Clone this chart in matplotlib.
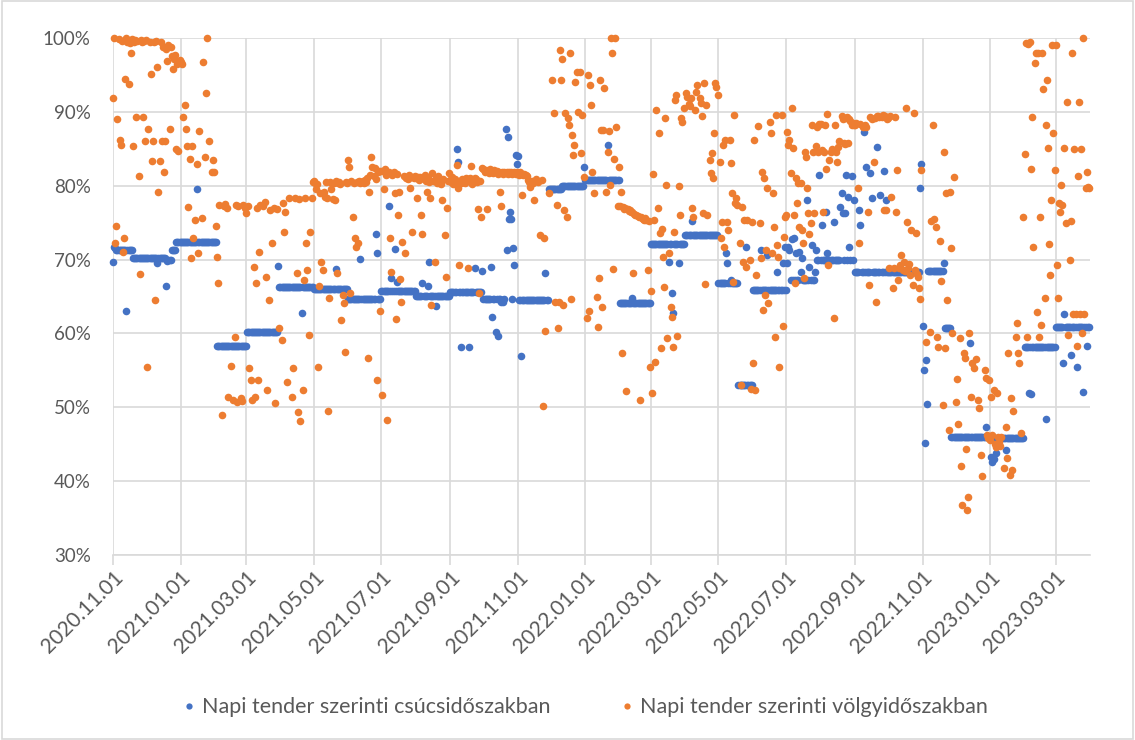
import numpy as np
import pandas as pd
import matplotlib
matplotlib.use("Agg")
import matplotlib.pyplot as plt
from matplotlib.lines import Line2D
from matplotlib.patches import Rectangle

plt.rcParams['font.family'] = ['Lato', 'DejaVu Sans']

# ---- data (daily values, % ; one row per month, starting at the 1st) ----
month_starts = pd.date_range("2020-11-01", "2023-03-01", freq="MS")

series_names = ["Napi tender szerinti csúcsidőszakban",
                "Napi tender szerinti völgyidőszakban"]

N = None

peak_rows = [
    # 2020-11
    [69.7,71.7,71.5,71.3,71.3,71.3,71.3,71.3,71.3,71.3,71.3,71.3,63.0,71.3,71.3,71.3,71.3,71.3,70.2,70.2,70.2,70.2,70.2,70.2,70.2,70.2,70.2,70.2,70.2,70.2],
    # 2020-12
    [70.2,70.2,70.2,70.2,70.2,70.2,70.2,70.2,70.2,70.2,69.5,70.2,70.2,70.2,70.2,70.2,70.2,70.2,66.4,69.8,70.0,70.0,70.0,71.3,71.3,71.3,71.3,72.4,72.4,72.4,72.4],
    # 2021-01
    [72.4,72.4,72.4,72.4,72.4,72.4,72.4,72.4,72.4,72.4,72.4,72.4,72.4,72.4,72.4,79.6,72.4,72.4,72.4,72.4,72.4,72.4,72.4,72.4,72.4,72.4,72.4,72.4,72.4,72.4,72.4],
    # 2021-02
    [72.4,72.4,58.3,58.3,58.3,58.3,58.3,58.3,58.3,58.3,58.3,58.3,58.3,58.3,58.3,58.3,58.3,58.3,58.3,58.3,58.3,58.3,58.3,58.3,58.3,58.3,58.3,58.3],
    # 2021-03
    [58.3,60.2,60.2,60.2,60.2,60.2,60.2,60.2,60.2,60.2,60.2,60.2,60.2,60.2,60.2,60.2,60.2,60.2,60.2,60.2,60.2,60.2,60.2,60.2,60.2,60.2,60.2,60.2,60.2,69.1,66.3],
    # 2021-04
    [66.3,66.3,66.3,66.3,66.3,66.3,66.3,66.3,66.3,66.3,66.3,66.3,66.3,66.3,66.3,66.3,66.3,66.3,66.3,62.8,66.3,66.3,66.3,66.3,66.3,66.3,66.3,66.3,66.3,66.3],
    # 2021-05
    [66.0,66.0,66.0,66.0,66.0,66.0,66.0,66.0,66.0,66.0,66.0,66.0,66.0,66.0,66.0,66.0,66.0,66.0,66.0,66.0,68.7,66.0,66.0,66.0,66.0,66.0,66.0,66.0,66.0,66.0,66.0],
    # 2021-06
    [64.7,64.7,64.7,64.7,64.7,64.7,64.7,64.7,64.7,64.7,64.7,70.1,64.7,64.7,64.7,64.7,64.7,64.7,64.7,64.7,64.7,64.7,64.7,64.7,64.7,73.5,70.9,64.7,64.7,64.7],
    # 2021-07
    [65.7,65.7,65.7,65.7,65.7,65.7,65.7,77.3,65.7,67.5,65.7,65.7,71.4,65.7,67.0,65.7,65.7,65.7,65.7,65.7,65.7,65.7,65.7,65.7,65.7,65.7,65.7,65.7,65.7,65.7,65.7],
    # 2021-08
    [65.1,65.1,65.1,65.1,65.1,65.1,66.8,65.1,65.1,65.1,65.1,66.4,69.7,65.1,65.1,65.1,65.1,65.1,63.7,65.1,65.1,65.1,65.1,65.1,65.1,65.1,65.1,65.1,65.1,65.1,65.1],
    # 2021-09
    [65.6,65.6,65.6,65.6,65.6,65.6,85.0,83.2,65.6,65.6,58.2,65.6,65.6,65.6,65.6,65.6,65.6,58.2,65.6,65.6,65.6,65.6,68.9,65.6,65.6,65.6,65.6,65.6,65.6,68.5],
    # 2021-10
    [64.6,64.6,64.6,64.6,64.6,64.6,64.6,69.0,62.2,64.6,64.6,60.2,64.6,59.6,64.6,64.6,64.3,64.5,64.3,64.6,87.7,71.3,86.6,75.5,76.4,75.5,64.6,71.6,69.3,84.1,83.0],
    # 2021-11
    [84.0,64.5,64.5,57.0,64.5,64.5,64.5,64.5,64.5,64.5,64.5,64.5,64.5,64.5,64.5,64.5,64.5,64.5,64.5,64.5,64.5,64.5,64.5,64.5,64.5,68.2,64.5,64.5,79.6,79.6],
    # 2021-12
    [79.5,79.5,79.5,79.5,79.5,79.5,79.5,79.5,79.5,79.5,79.9,79.9,79.9,79.9,79.9,79.9,79.9,79.9,79.9,79.9,79.9,79.9,79.9,79.9,79.9,79.9,79.9,79.9,79.9,79.9,82.5],
    # 2022-01
    [80.8,80.8,80.8,80.8,80.8,80.8,80.8,80.8,80.8,80.8,80.8,80.8,80.8,80.8,80.8,80.8,80.8,80.8,80.8,80.8,85.5,80.8,80.8,80.8,80.8,80.8,80.8,80.8,80.8,80.8,80.8],
    # 2022-02
    [64.1,64.1,64.1,64.1,64.1,64.1,64.1,64.1,64.1,64.1,64.1,64.8,64.1,64.1,64.1,64.1,64.1,64.1,64.1,64.1,64.1,64.1,64.1,64.1,64.1,64.1,64.1,64.1],
    # 2022-03
    [72.1,72.1,72.1,72.1,72.1,72.1,72.1,72.1,72.1,72.1,72.1,72.1,72.1,72.1,72.1,72.1,69.7,72.1,72.1,65.5,62.8,72.1,72.1,72.1,72.1,69.5,72.1,72.1,72.1,72.1,72.1],
    # 2022-04
    [73.3,73.3,73.3,73.3,73.3,73.3,75.2,73.3,73.3,73.3,73.3,73.3,73.3,73.3,73.3,73.3,73.3,73.3,73.3,73.3,73.3,73.3,73.3,73.3,73.3,73.3,73.3,73.3,73.3,73.3],
    # 2022-05
    [66.8,66.8,66.8,66.8,66.8,66.8,66.8,70.9,69.5,66.8,66.8,67.2,66.8,66.8,66.8,66.8,66.8,66.8,53.0,53.0,53.0,53.0,53.0,53.0,53.0,71.7,53.0,53.0,53.0,53.0,53.0],
    # 2022-06
    [65.9,65.9,65.9,65.9,65.9,65.9,65.9,71.3,65.9,65.9,65.9,65.9,65.9,70.6,65.9,65.9,65.9,65.9,65.9,65.9,65.9,65.9,68.3,65.9,65.9,65.9,65.9,69.5,65.9,71.7],
    # 2022-07
    [65.9,69.5,71.7,71.3,67.2,72.8,67.2,72.9,67.2,70.9,67.2,67.2,71.0,68.3,70.2,67.2,67.2,67.2,67.2,78.1,67.2,69.0,67.2,72.0,67.2,67.2,68.3,71.3,70.0,70.0,81.4],
    # 2022-08
    [70.0,74.7,70.0,70.0,70.0,76.5,70.9,70.0,70.0,70.0,70.0,70.0,75.1,70.0,70.0,70.0,70.0,70.0,77.1,79.0,76.3,70.0,76.3,81.4,70.0,78.5,71.7,70.0,81.3,70.0,78.1],
    # 2022-09
    [68.3,68.3,68.3,68.3,76.7,74.7,68.3,68.3,87.3,68.3,82.5,68.3,68.3,68.3,81.7,78.3,68.3,68.3,68.3,68.3,85.2,68.3,68.3,78.7,68.3,68.3,82.0,68.3,78.1,68.3],
    # 2022-10
    [68.3,68.3,68.3,68.3,68.3,68.3,68.3,68.3,68.3,68.3,68.3,68.3,68.3,68.3,68.3,68.3,68.3,68.3,68.3,68.3,68.3,68.3,68.3,68.3,68.3,68.3,68.3,68.3,68.3,79.7,82.9],
    # 2022-11
    [61.0,55.0,45.2,56.4,50.4,68.5,68.5,68.5,68.5,68.5,68.5,68.5,68.5,68.5,68.5,68.5,68.5,68.5,68.5,69.5,60.7,60.7,60.7,60.7,60.7,60.7,46.0,46.0,46.0,46.0],
    # 2022-12
    [46.0,46.0,46.0,46.0,46.0,46.0,46.0,46.0,46.0,46.0,46.0,46.0,46.0,58.7,46.0,46.0,46.0,46.0,46.0,46.0,46.0,46.0,46.0,46.0,46.0,46.0,46.0,47.3,46.0,46.0,46.0],
    # 2023-01
    [45.8,43.3,42.6,43.0,45.8,43.8,45.8,45.8,45.8,45.8,45.8,45.8,45.8,45.8,44.2,45.8,45.8,45.8,45.8,45.8,45.8,45.8,45.8,45.8,45.8,45.8,45.8,45.8,45.8,45.8,45.8],
    # 2023-02
    [58.2,58.2,58.2,58.2,52.0,58.2,51.8,58.2,58.2,58.2,58.2,58.2,58.2,58.2,58.2,58.2,58.2,58.2,58.2,48.4,58.2,58.2,58.2,58.2,58.2,58.2,58.2,58.2],
    # 2023-03
    [60.9,60.9,60.9,60.9,60.9,60.9,60.9,56.0,62.6,60.9,60.9,60.9,60.9,60.9,57.1,60.9,60.9,60.9,60.9,55.5,60.9,60.9,60.9,60.9,60.9,52.1,60.9,60.9,58.3,60.9,60.9],
]

valley_rows = [
    # 2020-11
    [91.9,100,72.2,74.5,89.0,99.8,86.2,85.5,99.6,71.0,72.9,94.4,100,99.5,93.8,99.3,98.0,99.8,85.4,99.5,99.7,89.3,99.6,81.3,68.0,99.7,99.4,89.3,99.6,86.1],
    # 2020-12
    [99.7,55.5,87.7,99.5,95.1,83.3,86.1,99.5,64.5,99.6,96.1,79.2,83.3,99.4,86.1,98.8,81.8,86.1,98.5,96.9,99.0,87.7,98.8,97.5,95.8,97.2,97.7,85.0,96.5,84.7,97.0],
    # 2021-01
    [96.8,96.5,89.3,N,90.9,87.7,85.4,77.1,83.6,70.2,85.4,72.9,N,75.4,N,82.9,70.9,87.4,N,75.6,96.8,N,83.9,92.6,100,N,86.1,N,81.9,83.5,81.9],
    # 2021-02
    [N,74.5,70.4,66.8,77.4,N,49.0,N,77.2,77.5,N,77.0,51.4,N,55.6,N,51.0,N,59.5,77.4,50.7,77.3,N,51.3,50.9,77.4,N,77.0],
    # 2021-03
    [76.3,N,77.2,55.3,53.7,51.0,N,69.0,51.4,66.8,77.0,53.7,71.0,77.4,N,77.3,N,77.8,67.6,52.3,N,64.5,76.7,72.2,N,77.0,50.6,N,76.8,N,60.7],
    # 2021-04
    [N,59.1,77.6,73.7,76.4,N,53.4,N,78.3,N,51.4,55.3,N,78.3,N,68.2,49.4,78.2,48.2,N,52.3,67.2,78.4,72.2,68.6,N,59.8,73.7,78.3,80.5],
    # 2021-05
    [80.6,80.4,79.5,80.2,55.5,66.4,79.0,69.7,68.6,79.2,78.5,80.5,78.3,49.5,64.8,80.5,79.5,78.2,80.4,78.1,80.6,68.2,80.3,80.5,80.2,61.8,65.2,64.1,57.5,80.5,80.4],
    # 2021-06
    [83.5,82.5,65.5,80.6,75.8,80.4,72.9,71.7,80.5,72.2,80.6,80.3,80.5,80.7,80.4,80.8,80.5,81.0,56.7,79.2,81.5,83.9,82.5,81.3,82.4,80.9,53.7,81.8,82.0,63.0],
    # 2021-07
    [82.0,51.6,79.5,82.2,81.5,48.3,81.7,81.8,72.9,68.3,81.5,81.9,79.0,62.0,81.6,76.0,79.2,67.4,64.3,72.4,81.3,70.9,81.0,81.2,80.9,81.4,79.7,81.2,73.7,81.0,81.3],
    # 2021-08
    [81.0,78.4,81.2,80.8,81.2,76.0,73.5,80.9,81.5,80.6,79.2,81.0,80.5,78.4,63.9,81.7,80.7,69.7,81.0,80.4,81.3,80.4,80.6,80.2,78.1,80.9,73.3,67.6,77.0,80.7,81.7],
    # 2021-09
    [80.8,80.5,81.2,80.2,80.9,80.6,82.8,79.7,69.3,80.7,80.4,80.9,80.5,80.4,81.0,80.6,68.9,80.8,81.0,82.7,80.2,80.6,81.0,80.9,80.5,76.8,65.5,80.7,75.8,82.4],
    # 2021-10
    [82.3,81.8,82.1,76.8,82.0,81.7,82.2,81.9,82.0,81.7,82.1,81.8,82.0,81.6,81.9,79.2,77.3,81.8,81.6,81.9,81.7,81.8,81.6,81.9,81.7,81.8,81.6,81.7,81.9,81.6,81.8],
    # 2021-11
    [81.7,81.5,81.9,81.6,78.8,81.4,81.6,81.5,81.3,80.8,80.5,79.8,80.2,80.6,80.4,78.1,80.9,N,80.5,N,73.3,N,80.8,50.2,72.9,60.3,N,N,79.0,N],
    # 2021-12
    [N,94.3,N,89.8,64.3,77.4,60.7,64.3,98.4,94.3,97.1,63.9,76.7,89.8,75.8,89.2,88.2,98.0,64.7,86.9,84.2,85.5,94.0,95.4,90.0,N,95.4,84.4,89.6,N,81.2],
    # 2022-01
    [N,62.1,95.0,63.0,93.6,90.9,81.8,N,79.0,N,65.0,60.9,67.5,94.3,87.5,63.6,87.6,93.2,N,79.2,84.5,87.4,80.1,100.0,98.0,68.7,83.6,100.0,88.0,77.3,82.5],
    # 2022-02
    [77.3,79.2,57.4,77.1,76.9,77.0,52.2,76.8,76.6,76.7,76.4,76.5,68.2,76.2,76.0,76.1,75.9,75.8,51.0,75.7,75.6,75.5,75.4,75.6,75.3,68.6,75.2,55.5],
    # 2022-03
    [65.7,51.9,81.6,75.3,56.1,90.3,77.0,87.1,73.6,58.0,74.1,70.4,66.3,89.2,80.1,59.4,70.9,N,63.6,62.2,58.2,73.7,91.6,92.3,59.6,80.0,76.0,89.2,88.6,N,90.5],
    # 2022-04
    [N,92.6,92.0,91.0,90.8,91.9,77.0,75.8,N,90.3,92.7,93.6,N,91.9,91.2,89.4,76.3,93.9,66.7,90.9,76.0,N,83.5,81.7,84.4,81.0,87.1,93.9,93.4,N],
    # 2022-05
    [92.3,83.2,72.9,75.1,85.5,71.7,86.2,N,75.1,74.0,86.2,83.1,79.0,67.0,89.6,77.7,78.3,77.4,N,72.2,53.0,77.1,69.7,75.4,N,69.0,75.3,N,70.0,52.5,75.1],
    # 2022-06
    [56.0,86.2,52.3,67.9,N,88.1,75.0,70.2,81.9,63.2,81.0,65.2,71.3,79.7,64.1,88.6,87.1,70.9,79.0,74.4,59.5,89.6,72.0,70.4,55.5,N,89.6,61.0,73.1,75.8],
    # 2022-07
    [76.0,87.3,85.5,86.2,81.7,90.5,85.1,76.0,66.8,81.0,77.7,80.4,74.4,80.4,74.0,72.2,67.5,84.5,83.9,79.7,76.3,73.5,75.0,88.2,84.6,76.3,N,85.4,88.0,84.6,88.3],
    # 2022-08
    [88.3,84.8,76.5,84.6,88.2,82.2,89.7,69.3,83.5,84.6,85.0,N,62.1,88.2,84.5,83.2,85.2,86.0,N,89.4,89.0,85.8,85.6,89.2,89.3,85.8,89.0,88.8,88.2,88.5,88.2],
    # 2022-09
    [88.2,88.5,N,79.7,72.2,88.4,N,88.0,N,88.2,88.0,N,76.5,66.6,89.3,89.0,N,83.2,89.2,64.3,89.5,89.4,89.3,N,89.3,89.6,76.7,89.4,76.7,89.0],
    # 2022-10
    [89.2,68.9,89.4,78.5,66.1,68.8,89.3,76.5,82.1,67.2,68.9,69.3,70.6,68.6,69.7,68.5,90.5,75.1,68.8,69.4,67.9,74.0,66.6,89.8,68.6,73.6,68.0,67.6,66.1,64.7,82.1],
    # 2022-11
    [N,N,N,58.8,N,N,N,60.2,75.2,88.2,75.5,N,74.4,59.5,58.2,N,72.5,67.1,50.3,84.6,58.0,79.0,64.5,N,46.9,79.2,71.6,60.0,81.2,N],
    # 2022-12
    [50.7,53.8,47.7,N,59.4,42.0,36.8,57.4,56.7,44.4,36.1,37.8,60.0,N,51.4,56.0,55.3,N,56.5,N,51.0,49.9,N,43.5,40.7,N,55.0,54.0,46.3,45.8,53.7],
    # 2023-01
    [45.6,51.4,46.2,52.3,45.0,44.6,52.0,46.0,45.3,44.8,46.0,N,41.8,N,47.3,43.2,57.4,N,40.8,51.3,41.5,49.5,N,59.5,61.4,57.4,56.0,N,46.5,N,75.8],
    # 2023-02
    [84.3,99.3,59.5,99.2,N,99.4,82.3,89.3,71.7,96.6,98.0,62.9,98.0,59.5,75.8,61.1,98.0,93.1,64.8,88.2,94.3,85.1,72.1,67.9,78.1,99.0,87.1,82.1],
    # 2023-03
    [99.0,69.3,64.8,77.7,76.4,80.1,77.4,N,85.1,74.9,91.3,59.8,N,70.0,75.2,98.0,62.6,85.0,62.6,58.3,81.3,91.3,62.6,85.0,60.0,100.0,62.6,79.7,81.8,79.8,79.7],
]

y_ticks = [30, 40, 50, 60, 70, 80, 90, 100]
x_tick_dates = pd.date_range("2020-11-01", "2023-03-01", freq="2MS")

colors = ["#4472C4", "#ED7D31"]
text_color = "#595959"
grid_color = "#D9D9D9"


def expand(rows):
    dates, vals = [], []
    for start, row in zip(month_starts, rows):
        dates.extend(start + pd.to_timedelta(np.arange(len(row)), unit="D"))
        vals.extend(row)
    return pd.DatetimeIndex(dates), np.array(vals, dtype=float)


peak_dates, peak_vals = expand(peak_rows)
valley_dates, valley_vals = expand(valley_rows)

fig = plt.figure(figsize=(11.35, 7.4), dpi=100)
fig.patch.set_facecolor("white")
ax = fig.add_axes([113 / 1135, 1 - 555 / 740, (1090 - 113) / 1135, (555 - 38) / 740])

ax.scatter(peak_dates, peak_vals, s=30, color=colors[0], linewidths=0,
           clip_on=False, zorder=3)
ax.scatter(valley_dates, valley_vals, s=30, color=colors[1], linewidths=0,
           clip_on=False, zorder=4)

ax.set_xlim(pd.Timestamp("2020-11-01"), pd.Timestamp("2023-04-01"))
ax.set_ylim(30, 100)
ax.set_yticks(y_ticks)
ax.set_yticklabels([f"{v}%" for v in y_ticks])
ax.set_xticks(x_tick_dates)
ax.set_xticklabels([d.strftime("%Y.%m.%d") for d in x_tick_dates],
                   rotation=45, ha="right", rotation_mode="anchor")

ax.grid(True, color=grid_color, linewidth=1.2, zorder=0)
ax.set_axisbelow(True)
for side in ["top", "right", "left"]:
    ax.spines[side].set_visible(False)
ax.spines["bottom"].set_color(grid_color)
ax.spines["bottom"].set_linewidth(1.2)

ax.tick_params(axis="x", length=7, width=1.2, color=grid_color,
               labelcolor=text_color, labelsize=15, pad=2)
ax.tick_params(axis="y", length=0, labelcolor=text_color, labelsize=13.5, pad=16)

handles = [Line2D([0], [0], marker="o", linestyle="none", markersize=4.5,
                  markerfacecolor=c, markeredgewidth=0) for c in colors]
fig.legend(handles, series_names, loc="center", bbox_to_anchor=(0.515, 0.044),
           ncol=2, frameon=False, fontsize=15.5, handletextpad=0.25,
           columnspacing=3.2, handlelength=0.7, labelcolor=text_color)

fig.patches.append(Rectangle((0.002, 0.002), 0.996, 0.996, transform=fig.transFigure,
                             fill=False, edgecolor=grid_color, linewidth=1.2))

fig.savefig("out.png", dpi=100, facecolor="white")
